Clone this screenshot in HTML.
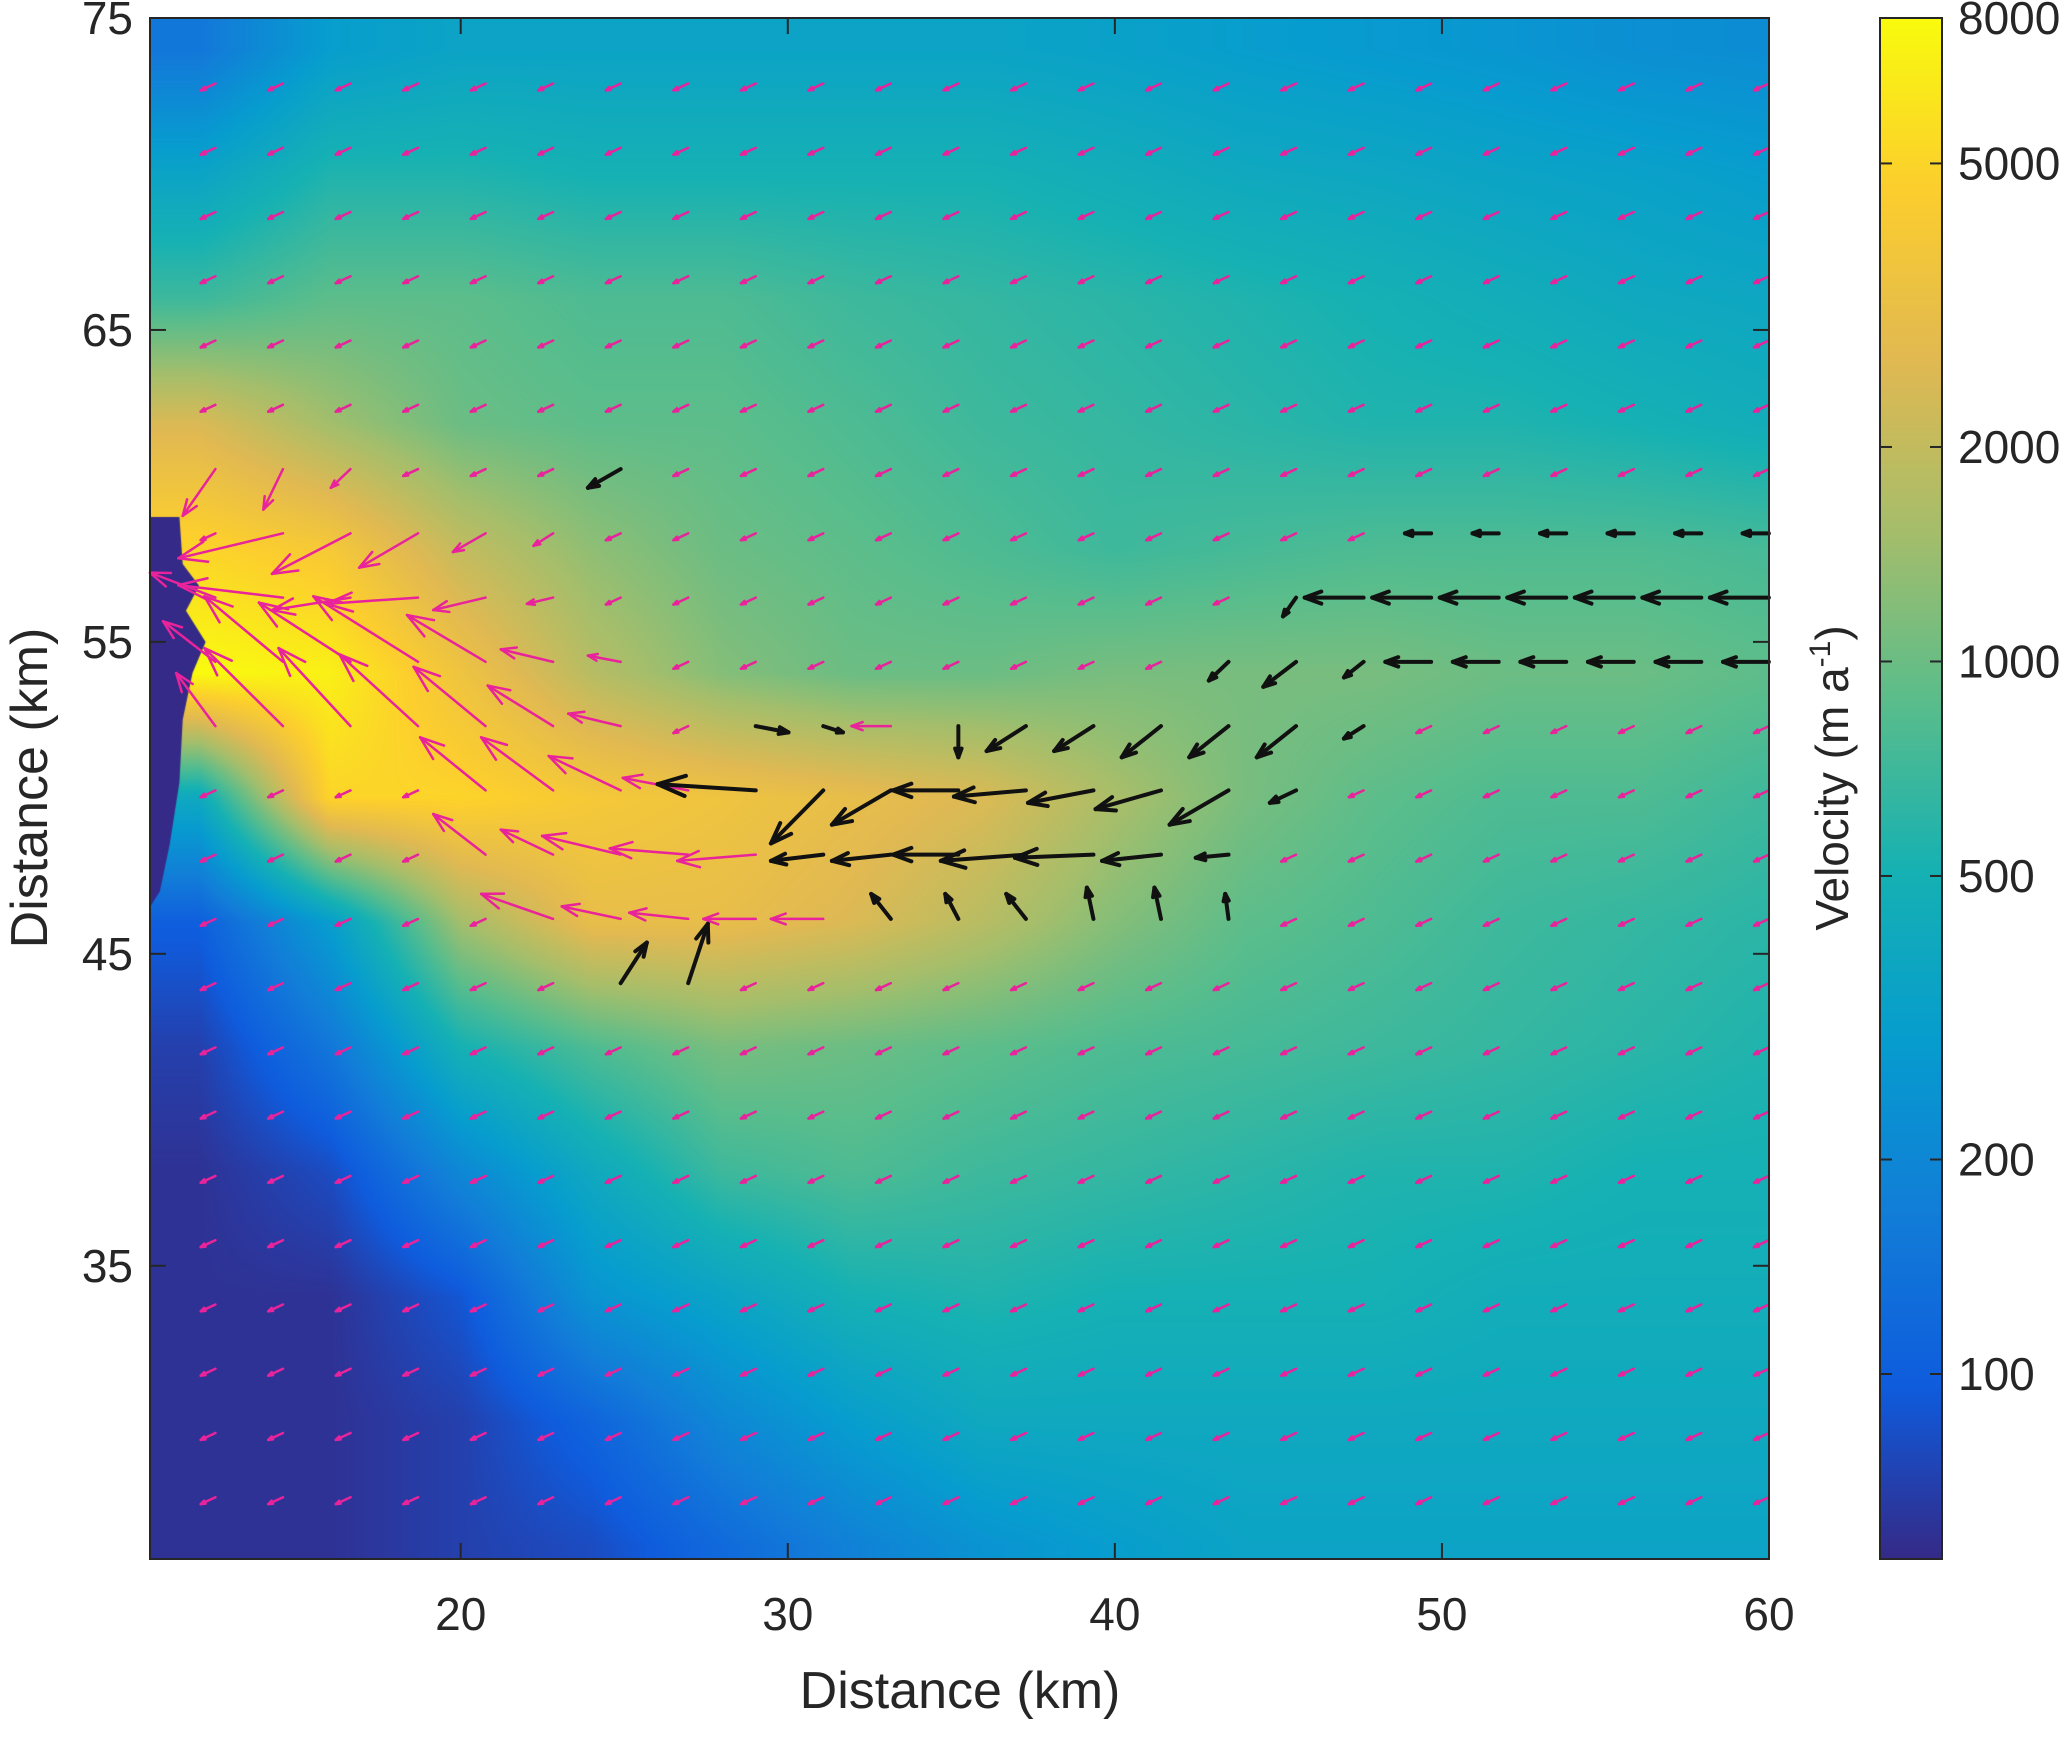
<!DOCTYPE html>
<html><head><meta charset="utf-8"><style>
html,body{margin:0;padding:0;background:#fff;}
#root{position:relative;width:2067px;height:1738px;overflow:hidden;font-family:"Liberation Sans",sans-serif;color:#262626;}
canvas{position:absolute;}
svg{position:absolute;left:0;top:0;}
</style></head><body>
<div id="root">
<canvas id="heat" width="1619" height="1541" style="left:150px;top:18px"></canvas>
<canvas id="cbar" width="62" height="1541" style="left:1880px;top:18px"></canvas>
<svg id="svg" width="2067" height="1738"></svg>
</div>
<script>
// ---- data ----
const gridX = [12,16,20,24,28,32,36,40,44,48,52,56,60];
const gridY = [74,70,66,62,58,54,50,46,42,38,34,30,26];
const velocity = [
[150,300,350,350,350,350,350,330,300,280,260,230,220],
[350,550,550,500,500,500,500,450,400,380,350,330,300],
[700,900,900,800,800,700,650,600,550,500,450,400,380],
[2500,1500,1000,900,900,800,700,650,600,550,550,500,450],
[5000,4000,2000,1300,1000,900,800,700,750,800,800,800,750],
[8000,7000,3500,1800,1200,1000,1000,1100,1100,1100,1000,1000,900],
[400,5000,5000,4000,3500,3000,2500,1600,1100,900,800,800,700],
[100,300,1500,3000,3000,2500,1800,1200,900,800,700,650,600],
[70,150,500,800,1100,1000,900,800,750,700,650,600,550],
[60,80,200,400,700,800,700,650,600,550,550,500,500],
[60,60,90,250,350,500,550,500,500,500,450,450,450],
[60,60,70,110,200,300,400,400,400,400,400,400,400],
[60,60,70,80,120,180,250,300,350,350,350,350,350]];
const xTicks = [20,30,40,50,60];
const yTicks = [35,45,55,65,75];
const cbTicks = [100,200,500,1000,2000,5000,8000];
// quiver grid
const qx0 = 12.5, qdx = 2.065, qy0 = 72.9, qdy = 2.06;
// major arrows: [row, col, u(km), v(km), color]
const arrowRow = [6,6,6,6, 7,7,7,7,7, 8,8,8,8,8,8, 9,9,9,9,9,9,9,
 10,10,10,10,10,10,10,10,10,10,10,10,10,10,10,10,10,
 11,11,11,11,11,11,11,11,11,11,11,11,11,
 12,12,12,12,12,12,12,12,12,12,12,12,
 13,13,13,13,13,13,13,13,13,13,13, 14,14,
 8,8,8,8,8,8,8,8, 9,9,9,9,9,9,9,9,9, 7,7,7,7,7,7];
const arrowCol = [0,1,2,6, 1,2,3,4,5, 0,1,2,3,4,5, 0,1,2,3,4,5,6,
 0,1,2,3,4,5,6,8,9,10,11,12,13,14,15,16,17,
 4,5,6,7,8,9,10,11,12,13,14,15,16,
 4,5,6,7,8,9,10,11,12,13,14,15,
 5,6,7,8,9,10,11,12,13,14,15, 6,7,
 16,17,18,19,20,21,22,23, 15,16,17,18,19,20,21,22,23, 18,19,20,21,22,23];
const arrowU = [-1.0,-0.6,-0.6,-1.0, -3.2,-2.4,-1.8,-1.0,-0.6, -2.0,-3.2,-2.4,-2.8,-1.6,-0.8, -1.6,-2.4,-2.8,-3.2,-2.4,-1.6,-1.0,
 -1.2,-2.4,-2.2,-2.4,-2.2,-2.0,-1.6,1.0,0.6,-1.2,0,-1.2,-1.2,-1.2,-1.2,-1.2,-0.6,
 -2.0,-2.2,-2.2,-2.0,-3.0,-1.6,-1.8,-2.0,-2.2,-2.0,-2.0,-1.8,-0.8,
 -1.6,-1.6,-2.4,-2.4,-2.4,-1.6,-1.8,-2.0,-2.6,-2.4,-1.8,-1.0,
 -2.2,-1.8,-1.8,-1.6,-1.6,-0.6,-0.4,-0.6,-0.2,-0.2,-0.1, 0.8,0.6,
 -0.4,-1.8,-1.8,-1.8,-1.8,-1.8,-1.8,-1.8, -0.6,-1.0,-0.6,-1.4,-1.4,-1.4,-1.4,-1.4,-1.4, -0.8,-0.8,-0.8,-0.8,-0.8,-0.8];
const arrowV = [-1.5,-1.3,-0.6,-0.6, -0.8,-1.3,-1.1,-0.6,-0.4, 0.8,0.4,-0.4,-0.2,-0.4,-0.2, 1.3,2.1,1.9,2.1,1.5,0.4,0.2,
 1.7,2.5,2.5,2.3,1.9,1.3,0.4,-0.2,-0.2,0,-1.0,-0.8,-0.8,-1.0,-1.0,-1.0,-0.4,
 1.7,1.7,1.1,0.4,0.2,-1.7,-1.1,0,-0.2,-0.4,-0.6,-1.1,-0.4,
 1.3,0.8,0.6,0.2,-0.2,-0.2,-0.2,0,-0.2,-0.1,-0.2,-0.1,
 0.8,0.4,0.2,0,0,0.8,0.8,0.8,1.0,1.0,0.8, 1.3,1.9,
 -0.6,0,0,0,0,0,0,0, -0.6,-0.8,-0.5,0,0,0,0,0,0, 0,0,0,0,0,0];
const arrowColor = ['p','p','p','k','p','p','p','p','p','p','p','p','p','p','p','p','p','p','p','p','p','p',
 'p','p','p','p','p','p','p','k','k','p','k','k','k','k','k','k','k',
 'p','p','p','p','k','k','k','k','k','k','k','k','k',
 'p','p','p','p','p','k','k','k','k','k','k','k',
 'p','p','p','p','p','k','k','k','k','k','k','k','k',
 'k','k','k','k','k','k','k','k','k','k','k','k','k','k','k','k','k','k','k','k','k','k','k'];
// ---- geometry ----
const PL=150, PT=18, PW=1619, PH=1541, XMIN=10.5, XMAX=60, YMIN=25.6, YMAX=75;
const sx = v => PL + (v-XMIN)/(XMAX-XMIN)*PW;
const sy = v => PT + (YMAX-v)/(YMAX-YMIN)*PH;
const LMIN=Math.log10(55), LMAX=Math.log10(8000);
const CB_T=18, CB_H=1541;
const cy = v => CB_T + (LMAX-Math.log10(v))/(LMAX-LMIN)*CB_H;
const parula=[[53,42,135],[15,92,221],[18,125,216],[7,156,207],[21,177,180],[89,189,140],[165,190,107],[225,185,82],[252,206,46],[249,251,14]];
function cmap(t){t=Math.max(0,Math.min(1,t));const f=t*(parula.length-1);const i=Math.min(parula.length-2,Math.floor(f));const r=f-i;
 return parula[i].map((c,j)=>c+(parula[i+1][j]-c)*r);}
// heatmap
(function(){
 const c=document.getElementById('heat'),ctx=c.getContext('2d');const img=ctx.createImageData(PW,PH);
 const L=velocity.map(r=>r.map(v=>Math.log10(v)));
 for(let py=0;py<PH;py++){
  const y=YMAX-(py+0.5)/PH*(YMAX-YMIN);
  let fy=(gridY[0]-y)/4; fy=Math.max(0,Math.min(gridY.length-1.0001,fy));const iy=Math.floor(fy),ry=fy-iy;
  for(let px=0;px<PW;px++){
   const x=XMIN+(px+0.5)/PW*(XMAX-XMIN);
   let fx=(x-gridX[0])/4; fx=Math.max(0,Math.min(gridX.length-1.0001,fx));const ix=Math.floor(fx),rx=fx-ix;
   const a=L[iy][ix]*(1-rx)+L[iy][ix+1]*rx, b=L[iy+1][ix]*(1-rx)+L[iy+1][ix+1]*rx;
   const col=cmap(((a*(1-ry)+b*ry)-LMIN)/(LMAX-LMIN));
   const k=(py*PW+px)*4;img.data[k]=col[0];img.data[k+1]=col[1];img.data[k+2]=col[2];img.data[k+3]=255;}
 }
 ctx.putImageData(img,0,0);
 // terminus dark strip
 ctx.fillStyle='rgb(53,42,135)';ctx.beginPath();
 const pts=[[10.5,59.0],[11.4,59.0],[11.5,57.5],[12.0,56.8],[11.6,56.0],[12.2,55.0],[11.8,54.0],[11.5,52.5],[11.4,50.5],[11.1,48.5],[10.8,47.0],[10.5,46.5]];
 pts.forEach((p,i)=>{const X=sx(p[0])-PL,Y=sy(p[1])-PT;i?ctx.lineTo(X,Y):ctx.moveTo(X,Y);});ctx.closePath();ctx.fill();
 const cb=document.getElementById('cbar').getContext('2d');
 for(let py=0;py<CB_H;py++){const col=cmap(1-py/CB_H);cb.fillStyle=`rgb(${col[0]|0},${col[1]|0},${col[2]|0})`;cb.fillRect(0,py,62,1);}
})();
// svg
const NS='http://www.w3.org/2000/svg',svg=document.getElementById('svg');
function el(t,a,p){const e=document.createElementNS(NS,t);for(const k in a)e.setAttribute(k,a[k]);(p||svg).appendChild(e);return e;}
const gq=el('g',{});


function arrow(x,y,u,v,color,w){
 const x1=sx(x),y1=sy(y),x2=sx(x+u),y2=sy(y+v);const dx=x2-x1,dy=y2-y1,len=Math.hypot(dx,dy);
 const g=el('g',{stroke:color,'stroke-width':w,fill:'none','stroke-linecap':'round'},gq);
 
 
 el('line',{x1,y1,x2,y2},g);
 if(len>2){const h=Math.min(len*0.3,30),ang=Math.atan2(dy,dx);
  for(const s of [-0.35,0.35]){el('line',{x1:x2,y1:y2,x2:x2-h*Math.cos(ang+s),y2:y2-h*Math.sin(ang+s)},g);}}
}
const major=new Set(arrowRow.map((r,i)=>r+'_'+arrowCol[i]));
for(let j=0;j<23;j++)for(let k=0;k<24;k++){
 if(major.has(j+'_'+k))continue;
 const x=qx0+k*qdx,y=qy0-j*qdy;
 arrow(x,y,-0.45,-0.22,'#e8239b',2.5);
}
arrowRow.forEach((j,i)=>{const x=qx0+arrowCol[i]*qdx,y=qy0-j*qdy;
 arrow(x,y,arrowU[i],arrowV[i],arrowColor[i]==='k'?'#111':'#e8239b',arrowColor[i]==='k'?4:2.5);});
// axes box
const box=el('rect',{x:PL,y:PT,width:PW,height:PH,fill:'none',stroke:'#262626','stroke-width':2});


xTicks.forEach(t=>{const X=sx(t);
 el('line',{x1:X,x2:X,y1:PT+PH,y2:PT+PH-16,stroke:'#262626','stroke-width':2});
 el('line',{x1:X,x2:X,y1:PT,y2:PT+16,stroke:'#262626','stroke-width':2});
 const tx=el('text',{x:X,y:1630,'text-anchor':'middle','font-size':46,fill:'#262626'});tx.textContent=t;
 
 });
yTicks.forEach(t=>{const Y=sy(t);
 el('line',{x1:PL,x2:PL+16,y1:Y,y2:Y,stroke:'#262626','stroke-width':2});
 el('line',{x1:PL+PW,x2:PL+PW-16,y1:Y,y2:Y,stroke:'#262626','stroke-width':2});
 const tx=el('text',{x:133,y:Y+16,'text-anchor':'end','font-size':46,fill:'#262626'});tx.textContent=t;
 
 });
const xt=el('text',{x:960,y:1708,'text-anchor':'middle','font-size':52,fill:'#262626'});xt.textContent='Distance (km)';


const yt=el('text',{x:0,y:0,'text-anchor':'middle','font-size':52,fill:'#262626',transform:'translate(47,788) rotate(-90)'});yt.textContent='Distance (km)';


// colorbar
const cbb=el('rect',{x:1880,y:CB_T,width:62,height:CB_H,fill:'none',stroke:'#262626','stroke-width':2});


cbTicks.forEach(t=>{const Y=cy(t);
 el('line',{x1:1942,x2:1930,y1:Y,y2:Y,stroke:'#262626','stroke-width':2});
 el('line',{x1:1880,x2:1892,y1:Y,y2:Y,stroke:'#262626','stroke-width':2});
 const tx=el('text',{x:1958,y:Y+16,'font-size':46,fill:'#262626'});tx.textContent=t;
 
 });
const ct=el('text',{x:0,y:0,'text-anchor':'middle','font-size':46,fill:'#262626',transform:'translate(1848,778) rotate(-90)'});


ct.textContent='Velocity (m a';
const sup=el('tspan',{'font-size':30,dy:-18},ct);sup.textContent='-1';
const cl=el('tspan',{dy:18},ct);cl.textContent=')';
</script>
</body></html>
